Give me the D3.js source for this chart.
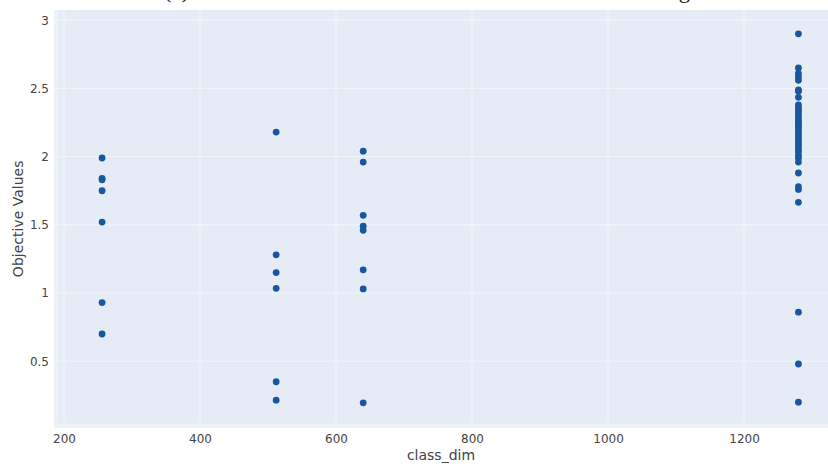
<!DOCTYPE html>
<html>
<head>
<meta charset="utf-8">
<script src="https://cdn.jsdelivr.net/npm/d3@7"></script>
<style>
  body { margin: 0; background: #fff; }
  svg { display: block; }
</style>
</head>
<body>
<div id="plot"></div>
<script>
// class_dim values and the objective values seen at each one
var dims = [256, 512, 640, 1280];
var obj256 = [1.99, 1.84, 1.83, 1.75, 1.52, 0.93, 0.70];
var obj512 = [2.18, 1.28, 1.15, 1.035, 0.35, 0.215];
var obj640 = [2.04, 1.96, 1.57, 1.49, 1.46, 1.17, 1.03, 0.195];
var obj1280 = [2.90, 2.65, 2.61, 2.585, 2.56, 2.49, 2.48, 2.435, 2.38, 2.36, 2.345,
               2.33, 2.31, 2.29, 2.27, 2.255, 2.24, 2.225, 2.21, 2.19, 2.17, 2.15,
               2.13, 2.11, 2.09, 2.07, 2.05, 2.035, 2.01, 1.99, 1.96, 1.88, 1.78,
               1.76, 1.665, 0.86, 0.48, 0.20];
var xTicks = [200, 400, 600, 800, 1000, 1200];
var yTicks = [0.5, 1, 1.5, 2, 2.5, 3];

var data = [];
[obj256, obj512, obj640, obj1280].forEach(function(vals, i) {
    vals.forEach(function(v) { data.push({dim: dims[i], val: v}); });
});

// plot area edges (the figure is cropped on the right)
var W = 828, H = 465;
var pl = 54, pt = 10, pr = 828, pb = 427.7;
var font = "DejaVu Sans, Verdana, sans-serif";

var x = d3.scaleLinear().domain([185.3, 1323.5]).range([pl, pr]);
var y = d3.scaleLinear().domain([0.013, 3.075]).range([pb, pt]);

var svg = d3.select("#plot").append("svg")
    .attr("width", W)
    .attr("height", H);

// cropped caption above the plot (only descenders show)
svg.append("text")
    .attr("x", 164)
    .attr("y", -2.5)
    .attr("textLength", 526)
    .attr("lengthAdjust", "spacingAndGlyphs")
    .style("font-family", "Liberation Serif, serif")
    .style("font-size", "20px")
    .style("fill", "#222")
    .text("(c) Results of Class Dimension Search Under Fine-Tuning");

// plot background
svg.append("rect")
    .attr("x", pl).attr("y", pt)
    .attr("width", pr - pl).attr("height", pb - pt)
    .attr("fill", "#e5ecf6");

// lighter strips along left and bottom edges
svg.append("rect")
    .attr("x", pl).attr("y", pt)
    .attr("width", 4).attr("height", pb - pt)
    .attr("fill", "#edf1f8");
svg.append("rect")
    .attr("x", pl).attr("y", pb - 4)
    .attr("width", pr - pl).attr("height", 4)
    .attr("fill", "#edf1f8");

// grid lines
svg.append("g").selectAll("line")
    .data(xTicks)
  .enter().append("line")
    .attr("x1", function(d) { return x(d); })
    .attr("x2", function(d) { return x(d); })
    .attr("y1", pt).attr("y2", pb)
    .attr("stroke", "#f3f6fb").attr("stroke-width", 1);

svg.append("g").selectAll("line")
    .data(yTicks)
  .enter().append("line")
    .attr("x1", pl).attr("x2", pr)
    .attr("y1", function(d) { return y(d); })
    .attr("y2", function(d) { return y(d); })
    .attr("stroke", "#f3f6fb").attr("stroke-width", 1);

// axes (labels only)
var xAxis = svg.append("g")
    .attr("transform", "translate(0," + pb + ")")
    .call(d3.axisBottom(x).tickValues(xTicks).tickSize(0).tickPadding(7).tickFormat(d3.format("d")));
var yAxis = svg.append("g")
    .attr("transform", "translate(" + pl + ",0)")
    .call(d3.axisLeft(y).tickValues(yTicks).tickSize(0).tickPadding(5).tickFormat(function(d) { return String(d); }));

[xAxis, yAxis].forEach(function(a) {
    a.select(".domain").remove();
    a.selectAll("text")
        .style("font-family", font)
        .style("font-size", "12px")
        .style("fill", "#444");
});

// axis titles
svg.append("text")
    .attr("x", (pl + pr) / 2)
    .attr("y", 460)
    .attr("text-anchor", "middle")
    .style("font-family", font)
    .style("font-size", "14px")
    .style("fill", "#444")
    .text("class_dim");

svg.append("text")
    .attr("transform", "translate(23," + ((pt + pb) / 2) + ") rotate(-90)")
    .attr("text-anchor", "middle")
    .style("font-family", font)
    .style("font-size", "14px")
    .style("fill", "#444")
    .text("Objective Values");

// points
svg.append("g").selectAll("circle")
    .data(data)
  .enter().append("circle")
    .attr("r", 3.4)
    .attr("cx", function(d) { return x(d.dim); })
    .attr("cy", function(d) { return y(d.val); })
    .attr("fill", "#1857a0");
</script>
</body>
</html>
